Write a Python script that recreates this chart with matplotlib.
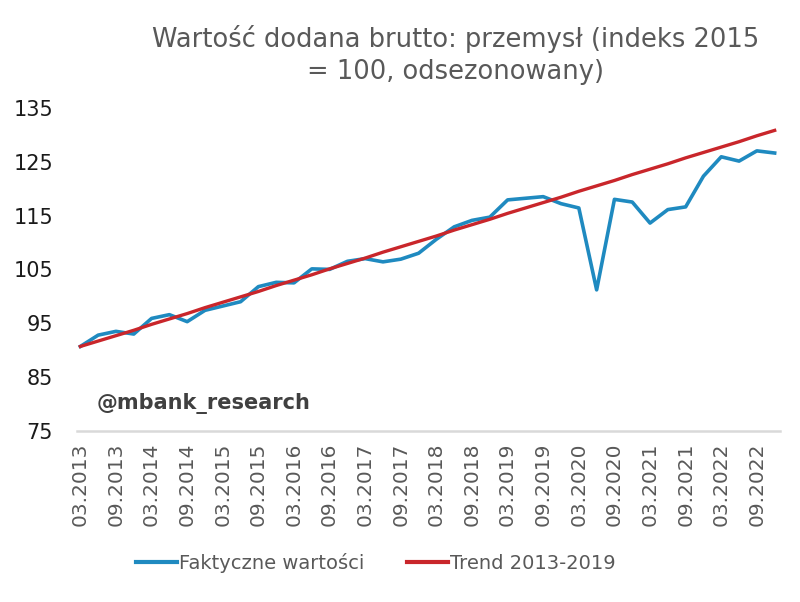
import matplotlib
matplotlib.use("Agg")
import matplotlib.pyplot as plt

quarters = [f"{m}.{y}" for y in range(2013, 2023) for m in ("03", "06", "09", "12")]
actual = [90.7, 92.8, 93.5, 93.0, 95.9, 96.6, 95.3, 97.4, 98.2, 99.0,
          101.8, 102.6, 102.5, 105.1, 105.0, 106.5, 107.0, 106.4, 106.9, 108.0,
          110.6, 112.9, 114.1, 114.7, 117.9, 118.2, 118.5, 117.2, 116.4, 101.2,
          118.0, 117.5, 113.6, 116.1, 116.6, 122.3, 125.9, 125.1, 127.0, 126.6]
trend = [90.7, 91.7, 92.7, 93.7, 94.8, 95.8, 96.8, 97.9, 98.9, 99.9,
         100.9, 102.0, 103.0, 104.0, 105.1, 106.1, 107.1, 108.2, 109.2, 110.2,
         111.2, 112.3, 113.3, 114.3, 115.4, 116.4, 117.4, 118.4, 119.5, 120.5,
         121.5, 122.6, 123.6, 124.6, 125.7, 126.7, 127.7, 128.7, 129.8, 130.8]
yticks = [75, 85, 95, 105, 115, 125, 135]

title = "Wartość dodana brutto: przemysł (indeks 2015\n= 100, odsezonowany)"
label_actual = "Faktyczne wartości"
label_trend = "Trend 2013-2019"
watermark = "@mbank_research"

plt.rcParams['font.family'] = ['DejaVu Sans']

fig = plt.figure(figsize=(8.0, 6.02), dpi=100)
ax = fig.add_axes([0.096, 0.284, 0.879, 0.537])

x = list(range(len(quarters)))
ax.plot(x, actual, color="#1f8ac0", lw=2.6, label=label_actual, solid_joinstyle="round")
ax.plot(x, trend, color="#c9262b", lw=2.4, label=label_trend)

ax.set_ylim(75, 135)
ax.set_xlim(-0.2, 39.3)
ax.set_yticks(yticks)
ax.set_yticklabels([str(v) for v in yticks], fontsize=15, color="#1a1a1a")
ax.set_xticks(x[::2])
ax.set_xticklabels(quarters[::2], rotation=90, fontsize=14.5, color="#595959")
ax.tick_params(axis="both", length=0)
ax.tick_params(axis="y", pad=17)
ax.tick_params(axis="x", pad=8)

for s in ("top", "right", "left"):
    ax.spines[s].set_visible(False)
ax.spines["bottom"].set_color("#d9d9d9")
ax.spines["bottom"].set_linewidth(1.8)

fig.text(0.57, 0.958, title, ha="center", va="top", fontsize=18.5,
         color="#595959", linespacing=1.3)
fig.text(0.121, 0.33, watermark, ha="left", va="center", fontsize=15,
         fontweight="bold", color="#404040")

leg = fig.legend(loc="center", bbox_to_anchor=(0.47, 0.065), ncol=2, frameon=False,
                 fontsize=14, handlelength=2.1, handletextpad=0.1, columnspacing=2.2,
                 labelcolor="#595959")
for h in leg.legend_handles:
    h.set_linewidth(3)

fig.savefig("out.png", dpi=100)
